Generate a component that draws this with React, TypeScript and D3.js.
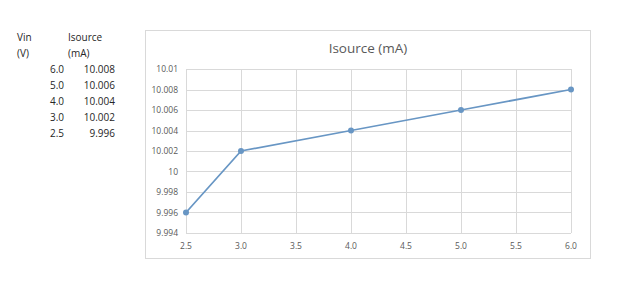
import React from "react";
import * as d3 from "d3";

const vin = [2.5, 3.0, 4.0, 5.0, 6.0];
const isource = [9.996, 10.002, 10.004, 10.006, 10.008];
const tableVin = ["6.0", "5.0", "4.0", "3.0", "2.5"];
const tableI = ["10.008", "10.006", "10.004", "10.002", "9.996"];
const xTicks = [2.5, 3.0, 3.5, 4.0, 4.5, 5.0, 5.5, 6.0];
const yTicks = [9.994, 9.996, 9.998, 10, 10.002, 10.004, 10.006, 10.008, 10.01];
const title = "Isource (mA)";

export default function App() {
  const x = d3.scaleLinear().domain([2.5, 6.0]).range([186, 571]);
  const y = d3.scaleLinear().domain([9.994, 10.01]).range([233, 69]);
  const line = d3
    .line<number>()
    .x((_, i) => x(vin[i]))
    .y((d) => y(d));
  const font = "'Open Sans', 'Liberation Sans', sans-serif";
  const fmtY = (v: number) => String(+v.toFixed(3));
  return (
    <svg
      width={619}
      height={299}
      style={{ position: "absolute", left: 0, top: 0, background: "#fff" }}
      fontFamily={font}
    >
      <rect x={0} y={0} width={619} height={299} fill="#fff" />
      {/* left table */}
      <g fontSize={10} fill="#262626">
        <text x={17} y={41}>Vin</text>
        <text x={17} y={57}>(V)</text>
        <text x={68} y={41}>Isource</text>
        <text x={68} y={57}>(mA)</text>
        {tableVin.map((v, i) => (
          <text key={"v" + i} x={64} y={73 + i * 15.9} textAnchor="end">{v}</text>
        ))}
        {tableI.map((v, i) => (
          <text key={"i" + i} x={115} y={73 + i * 15.9} textAnchor="end">{v}</text>
        ))}
      </g>
      {/* chart frame */}
      <rect x={145.5} y={30.5} width={445} height={228} fill="#fff" stroke="#d9d9d9" />
      <text x={368} y={53} textAnchor="middle" fontSize={13.5} fill="#595959">{title}</text>
      {/* grid */}
      <g stroke="#d9d9d9" strokeWidth={1}>
        {yTicks.map((t) => (
          <line key={"gy" + t} x1={186} x2={571} y1={Math.round(y(t)) + 0.5} y2={Math.round(y(t)) + 0.5} />
        ))}
        {xTicks.map((t) => (
          <line key={"gx" + t} x1={Math.round(x(t)) + 0.5} x2={Math.round(x(t)) + 0.5} y1={69} y2={233} />
        ))}
      </g>
      <g fontSize={8.5} fill="#595959">
        {yTicks.map((t) => (
          <text key={"ty" + t} x={178} y={y(t) + 3} textAnchor="end">{fmtY(t)}</text>
        ))}
        {xTicks.map((t) => (
          <text key={"tx" + t} x={x(t)} y={249} textAnchor="middle">{t.toFixed(1)}</text>
        ))}
      </g>
      <path d={line(isource) || ""} fill="none" stroke="#6896c4" strokeWidth={1.75} />
      {isource.map((v, i) => (
        <circle key={"p" + i} cx={x(vin[i])} cy={y(v)} r={3} fill="#6896c4" />
      ))}
    </svg>
  );
}
